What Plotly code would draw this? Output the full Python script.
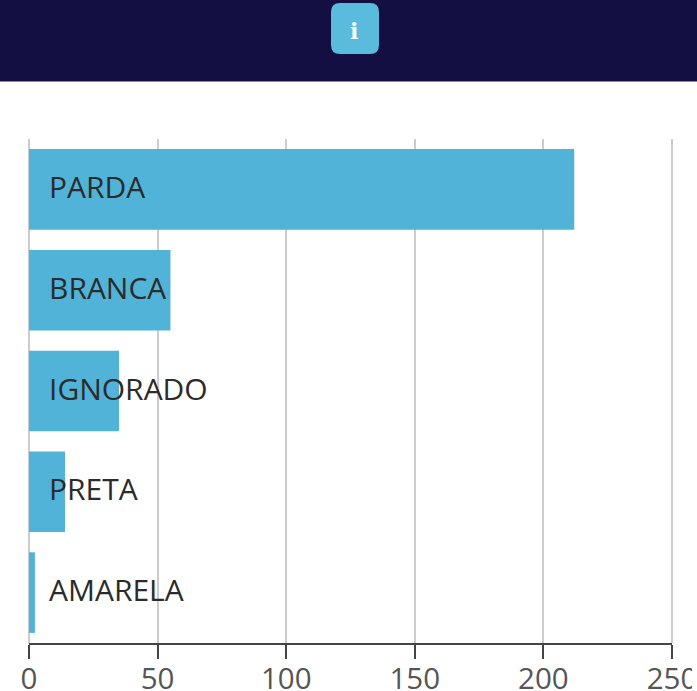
import plotly.graph_objects as go

categories = ["PARDA", "BRANCA", "IGNORADO", "PRETA", "AMARELA"]
values = [212, 55, 35, 14, 2.3]
tick_values = [0, 50, 100, 150, 200, 250]

W, H = 697, 691
L, R, T, B = 29, 25, 139, 48
FONT = "Open Sans"
BAR = "#51B3D8"
GRID = "#CCCCCC"


def px(v):
    return (v - L) / (W - L - R)


def py(v):
    return (H - B - v) / (H - T - B)


def rounded(x0, y0, x1, y1, r):
    return (
        f"M {px(x0 + r)} {py(y0)} L {px(x1 - r)} {py(y0)} "
        f"Q {px(x1)} {py(y0)} {px(x1)} {py(y0 + r)} L {px(x1)} {py(y1 - r)} "
        f"Q {px(x1)} {py(y1)} {px(x1 - r)} {py(y1)} L {px(x0 + r)} {py(y1)} "
        f"Q {px(x0)} {py(y1)} {px(x0)} {py(y1 - r)} L {px(x0)} {py(y0 + r)} "
        f"Q {px(x0)} {py(y0)} {px(x0 + r)} {py(y0)} Z"
    )


fig = go.Figure(
    go.Bar(
        x=values,
        y=categories,
        orientation="h",
        marker=dict(color=BAR, line=dict(width=0)),
        width=0.8,
        hoverinfo="skip",
    )
)

for c in categories:
    fig.add_annotation(
        x=0, y=c, xref="x", yref="y", text=c, showarrow=False,
        xanchor="left", xshift=18, yshift=3,
        font=dict(family=FONT, size=30, color="#2b2b2b"),
    )

fig.add_annotation(
    x=px(354), y=py(31), xref="paper", yref="paper", text="<b>i</b>", showarrow=False,
    xanchor="center", yanchor="middle",
    font=dict(family="DejaVu Serif", size=22, color="#ffffff"),
)

edge_lines = [
    dict(type="line", xref="paper", yref="paper", x0=v, x1=v, y0=0, y1=1,
         line=dict(color=GRID, width=2), layer="below")
    for v in (0, 1)
]

fig.update_layout(
    width=W,
    height=H,
    margin=dict(l=L, r=R, t=T, b=B, autoexpand=False),
    paper_bgcolor="#ffffff",
    plot_bgcolor="#ffffff",
    showlegend=False,
    bargap=0.2,
    shapes=[
        dict(type="rect", xref="paper", yref="paper", x0=px(0), x1=px(W), y0=py(81.5), y1=py(-2),
             fillcolor="#140F42", line=dict(width=0), layer="below"),
        dict(type="path", xref="paper", yref="paper", path=rounded(331, 3, 379, 54, 9),
             fillcolor="#5BBBDD", line=dict(width=0), layer="below"),
        dict(type="rect", xref="paper", yref="paper", x0=px(692), x1=px(W), y0=py(H), y1=py(660),
             fillcolor="#ffffff", line=dict(width=0), layer="above"),
    ] + edge_lines,
    xaxis=dict(
        range=[0, 250],
        tickvals=tick_values,
        ticks="outside",
        ticklen=14,
        tickwidth=2,
        tickcolor="#444444",
        showgrid=True,
        gridcolor=GRID,
        gridwidth=2,
        showline=True,
        linecolor="#444444",
        linewidth=2,
        zeroline=False,
        tickfont=dict(family=FONT, size=29.5, color="#555555"),
        ticklabelstandoff=-5,
        ticklabeloverflow="allow",
        automargin=False,
    ),
    yaxis=dict(
        categoryorder="array",
        categoryarray=categories[::-1],
        showticklabels=False,
        ticks="",
        showgrid=False,
        zeroline=False,
        showline=False,
        automargin=False,
    ),
)

fig.write_html(
    "out.html",
    config=dict(displayModeBar=False),
    post_script="document.body.style.margin='0';document.body.style.overflow='hidden';",
)
